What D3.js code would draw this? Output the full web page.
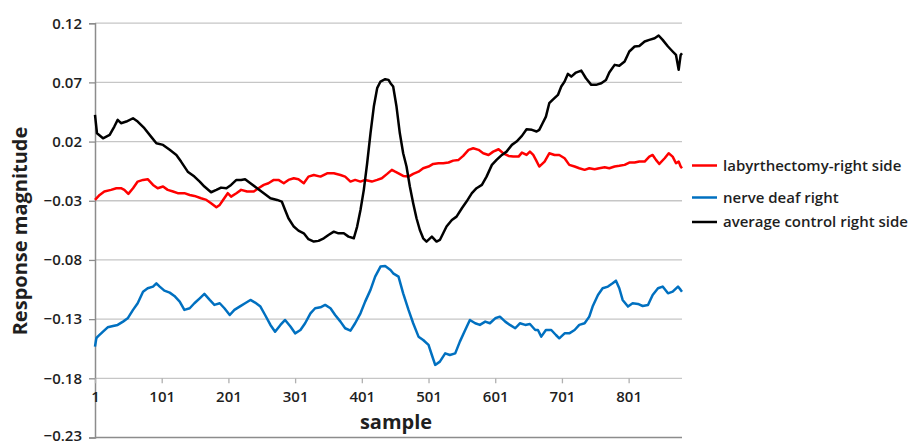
<!DOCTYPE html>
<html>
<head>
<meta charset="utf-8">
<script src="https://cdn.jsdelivr.net/npm/d3@7/dist/d3.min.js"></script>
<style>
  html, body { margin: 0; padding: 0; background: #fff; }
  svg { display: block; }
  text { font-family: "Open Sans", "DejaVu Sans", sans-serif; fill: #1f1f1f; }
</style>
</head>
<body>
<svg id="chart" width="920" height="445"></svg>
<script>
// Sample positions along the recording and the response magnitude at each one.
const labySamples = [1, 8, 15, 25, 33, 40, 45, 51, 58, 65, 73, 80, 88, 95, 103, 110, 118, 125, 135, 143, 150, 160, 168, 175, 183, 188, 193, 200, 205, 213, 220, 229, 239, 246, 254, 261, 269, 276, 284, 291, 299, 306, 314, 321, 329, 339, 349, 359, 369, 376, 384, 391, 399, 406, 416, 424, 431, 439, 446, 451, 456, 463, 471, 478, 486, 493, 501, 508, 516, 523, 531, 538, 546, 553, 561, 568, 576, 583, 591, 598, 606, 613, 621, 628, 636, 641, 648, 653, 658, 662, 667, 675, 682, 690, 697, 705, 712, 720, 727, 735, 742, 750, 757, 765, 772, 780, 787, 795, 802, 810, 817, 825, 832, 837, 842, 847, 855, 861, 867, 872, 876, 879, 881];
const labyValues = [-0.0293, -0.0251, -0.0222, -0.0208, -0.0194, -0.0194, -0.0208, -0.0242, -0.0194, -0.0138, -0.0124, -0.0118, -0.0166, -0.0194, -0.0180, -0.0208, -0.0222, -0.0236, -0.0236, -0.0251, -0.0259, -0.0279, -0.0293, -0.0321, -0.0355, -0.0335, -0.0293, -0.0236, -0.0265, -0.0236, -0.0208, -0.0222, -0.0222, -0.0194, -0.0166, -0.0152, -0.0124, -0.0124, -0.0152, -0.0124, -0.0110, -0.0118, -0.0152, -0.0096, -0.0082, -0.0096, -0.0068, -0.0068, -0.0082, -0.0096, -0.0138, -0.0124, -0.0138, -0.0124, -0.0138, -0.0124, -0.0110, -0.0073, -0.0039, -0.0054, -0.0068, -0.0090, -0.0096, -0.0073, -0.0054, -0.0025, -0.0011, 0.0011, 0.0017, 0.0017, 0.0023, 0.0039, 0.0045, 0.0079, 0.0130, 0.0144, 0.0130, 0.0101, 0.0087, 0.0115, 0.0135, 0.0101, 0.0079, 0.0073, 0.0073, 0.0107, 0.0087, 0.0115, 0.0087, 0.0045, -0.0011, 0.0031, 0.0101, 0.0087, 0.0087, 0.0059, 0.0003, -0.0011, -0.0025, -0.0039, -0.0025, -0.0034, -0.0025, -0.0017, -0.0025, -0.0011, -0.0005, 0.0003, 0.0023, 0.0023, 0.0031, 0.0031, 0.0073, 0.0087, 0.0045, 0.0011, 0.0059, 0.0101, 0.0073, 0.0017, 0.0031, -0.0011, -0.0025];

const deafSamples = [1, 3, 5, 13, 20, 28, 35, 43, 50, 58, 65, 73, 80, 88, 93, 98, 105, 113, 120, 128, 135, 143, 150, 158, 165, 173, 180, 188, 195, 203, 210, 219, 226, 234, 241, 249, 256, 264, 271, 279, 286, 294, 301, 309, 316, 324, 331, 339, 346, 354, 361, 369, 376, 384, 391, 399, 406, 414, 421, 429, 436, 444, 448, 456, 463, 471, 478, 486, 493, 501, 506, 511, 518, 526, 533, 541, 548, 556, 563, 571, 578, 586, 593, 601, 608, 616, 623, 631, 638, 646, 653, 661, 665, 670, 677, 685, 692, 697, 705, 712, 720, 727, 735, 742, 747, 755, 762, 770, 777, 782, 787, 792, 800, 807, 815, 822, 830, 837, 845, 852, 860, 867, 875, 879, 881];
const deafValues = [-0.1532, -0.1462, -0.1448, -0.1406, -0.1369, -0.1358, -0.1349, -0.1321, -0.1293, -0.1222, -0.1166, -0.1068, -0.1039, -0.1025, -0.0997, -0.1025, -0.1059, -0.1076, -0.1104, -0.1152, -0.1222, -0.1208, -0.1166, -0.1124, -0.1087, -0.1138, -0.1180, -0.1166, -0.1208, -0.1265, -0.1222, -0.1190, -0.1166, -0.1138, -0.1160, -0.1194, -0.1265, -0.1349, -0.1406, -0.1349, -0.1307, -0.1363, -0.1420, -0.1392, -0.1335, -0.1251, -0.1208, -0.1200, -0.1180, -0.1208, -0.1265, -0.1321, -0.1377, -0.1397, -0.1335, -0.1251, -0.1152, -0.1053, -0.0941, -0.0856, -0.0851, -0.0885, -0.0913, -0.0941, -0.1082, -0.1222, -0.1335, -0.1448, -0.1476, -0.1518, -0.1603, -0.1687, -0.1659, -0.1589, -0.1603, -0.1589, -0.1490, -0.1392, -0.1307, -0.1335, -0.1349, -0.1321, -0.1335, -0.1293, -0.1279, -0.1321, -0.1349, -0.1377, -0.1335, -0.1349, -0.1341, -0.1392, -0.1392, -0.1448, -0.1392, -0.1392, -0.1434, -0.1462, -0.1420, -0.1420, -0.1392, -0.1349, -0.1335, -0.1279, -0.1194, -0.1096, -0.1039, -0.1025, -0.0997, -0.0975, -0.1039, -0.1138, -0.1194, -0.1166, -0.1172, -0.1189, -0.1180, -0.1096, -0.1039, -0.1025, -0.1082, -0.1068, -0.1025, -0.1053, -0.1068];

const controlSamples = [1, 4, 13, 23, 30, 35, 40, 48, 58, 65, 75, 85, 93, 103, 113, 123, 130, 140, 150, 158, 165, 175, 183, 190, 198, 205, 213, 220, 226, 234, 244, 254, 264, 274, 281, 286, 291, 299, 306, 314, 321, 329, 336, 344, 351, 359, 366, 374, 381, 389, 394, 399, 404, 409, 414, 419, 424, 429, 436, 441, 444, 448, 453, 458, 463, 468, 473, 478, 483, 488, 493, 498, 506, 513, 518, 523, 528, 536, 543, 551, 558, 566, 573, 581, 588, 596, 603, 611, 618, 626, 633, 641, 648, 656, 663, 667, 672, 677, 682, 687, 695, 700, 705, 710, 715, 722, 730, 737, 745, 752, 760, 767, 772, 780, 787, 795, 802, 810, 817, 825, 832, 840, 846, 852, 860, 867, 872, 876, 879, 881];
const controlValues = [0.0425, 0.0270, 0.0228, 0.0256, 0.0327, 0.0383, 0.0355, 0.0369, 0.0397, 0.0369, 0.0313, 0.0242, 0.0186, 0.0172, 0.0130, 0.0087, 0.0031, -0.0054, -0.0096, -0.0138, -0.0180, -0.0228, -0.0208, -0.0189, -0.0194, -0.0166, -0.0124, -0.0124, -0.0118, -0.0152, -0.0194, -0.0236, -0.0279, -0.0293, -0.0307, -0.0378, -0.0448, -0.0518, -0.0552, -0.0575, -0.0625, -0.0645, -0.0639, -0.0617, -0.0589, -0.0561, -0.0575, -0.0575, -0.0603, -0.0617, -0.0518, -0.0378, -0.0208, 0.0017, 0.0270, 0.0496, 0.0651, 0.0707, 0.0727, 0.0721, 0.0693, 0.0665, 0.0496, 0.0270, 0.0101, -0.0011, -0.0180, -0.0321, -0.0448, -0.0547, -0.0617, -0.0645, -0.0603, -0.0645, -0.0631, -0.0575, -0.0518, -0.0462, -0.0434, -0.0363, -0.0307, -0.0236, -0.0194, -0.0166, -0.0096, 0.0003, 0.0045, 0.0087, 0.0115, 0.0172, 0.0200, 0.0248, 0.0304, 0.0299, 0.0285, 0.0299, 0.0355, 0.0411, 0.0524, 0.0552, 0.0594, 0.0665, 0.0707, 0.0772, 0.0749, 0.0783, 0.0800, 0.0735, 0.0679, 0.0679, 0.0693, 0.0721, 0.0783, 0.0848, 0.0840, 0.0876, 0.0961, 0.1003, 0.1008, 0.1045, 0.1059, 0.1073, 0.1096, 0.1059, 0.1003, 0.0961, 0.0932, 0.0806, 0.0932, 0.0947];

const yTicks = [-0.23, -0.18, -0.13, -0.08, -0.03, 0.02, 0.07, 0.12];
const xTicks = [1, 101, 201, 301, 401, 501, 601, 701, 801];

const seriesNames = ["labyrthectomy-right side", "nerve deaf right", "average control right side"];
const seriesColors = ["#ff0000", "#0070c0", "#000000"];

const series = [
  { name: seriesNames[0], color: seriesColors[0], samples: labySamples, values: labyValues },
  { name: seriesNames[1], color: seriesColors[1], samples: deafSamples, values: deafValues },
  { name: seriesNames[2], color: seriesColors[2], samples: controlSamples, values: controlValues }
];

const svg = d3.select("#chart");
const plot = { left: 95, right: 682, top: 23.2, bottom: 437.5 };

const x = d3.scaleLinear().domain([1, 881]).range([plot.left, plot.right]);
const y = d3.scaleLinear().domain([-0.23, 0.12]).range([plot.bottom, plot.top]);

// Horizontal gridlines
svg.append("g")
  .selectAll("line")
  .data(yTicks.filter(d => d !== -0.23))
  .join("line")
  .attr("x1", plot.left).attr("x2", plot.right)
  .attr("y1", d => y(d)).attr("y2", d => y(d))
  .attr("stroke", "#c6c6c6").attr("stroke-width", 1.3);

// Bottom edge of the plot
svg.append("line")
  .attr("x1", plot.left).attr("x2", plot.right)
  .attr("y1", y(-0.23)).attr("y2", y(-0.23))
  .attr("stroke", "#8c8c8c").attr("stroke-width", 1.5);

// Value axis on the left
const yAxis = d3.axisLeft(y).tickValues(yTicks).tickSize(6).tickPadding(7)
  .tickFormat(d3.format(".2f"));
const gy = svg.append("g").attr("transform", `translate(${plot.left},0)`).call(yAxis);
gy.select(".domain").attr("stroke", "#8c8c8c").attr("stroke-width", 1.5);
gy.selectAll(".tick line").attr("stroke", "#8c8c8c").attr("stroke-width", 1.3);
gy.selectAll(".tick text")
  .attr("font-family", "Open Sans").attr("font-size", 15).attr("font-weight", 600)
  .attr("fill", "#1f1f1f");
// keep the lowest label inside the frame
gy.selectAll(".tick text").filter(d => d === -0.23).attr("dy", "0.2em");

// Sample axis crossing at -0.18
const xAxis = d3.axisBottom(x).tickValues(xTicks).tickSize(5).tickPadding(8)
  .tickFormat(d3.format("d"));
const gx = svg.append("g").attr("transform", `translate(0,${y(-0.18)})`).call(xAxis);
gx.select(".domain").remove();
gx.selectAll(".tick line").attr("stroke", "#b0b0b0").attr("stroke-width", 1.3);
gx.selectAll(".tick text")
  .attr("font-family", "Open Sans").attr("font-size", 15).attr("font-weight", 600)
  .attr("fill", "#1f1f1f");

// Series lines
const line = d3.line()
  .x(d => x(d[0]))
  .y(d => y(d[1]));

svg.append("g")
  .selectAll("path")
  .data(series)
  .join("path")
  .attr("d", s => line(s.samples.map((t, i) => [t, s.values[i]])))
  .attr("fill", "none")
  .attr("stroke", s => s.color)
  .attr("stroke-width", 2.5)
  .attr("stroke-linejoin", "round");

// Axis titles
svg.append("text")
  .attr("x", 396).attr("y", 429)
  .attr("text-anchor", "middle")
  .attr("font-size", 20).attr("font-weight", 700)
  .text("sample");

svg.append("text")
  .attr("transform", "translate(27,231) rotate(-90)")
  .attr("text-anchor", "middle")
  .attr("font-size", 20).attr("font-weight", 700)
  .text("Response magnitude");

// Legend
const legendY = [165.5, 197.5, 222];
const legend = svg.append("g")
  .selectAll("g")
  .data(series)
  .join("g")
  .attr("transform", (d, i) => `translate(692,${legendY[i]})`);
legend.append("line")
  .attr("x1", 0).attr("x2", 25)
  .attr("stroke", d => d.color).attr("stroke-width", 2.5);
legend.append("text")
  .attr("x", 31).attr("dy", "0.35em")
  .attr("font-size", 15).attr("font-weight", 600)
  .text(d => d.name);
</script>
</body>
</html>
